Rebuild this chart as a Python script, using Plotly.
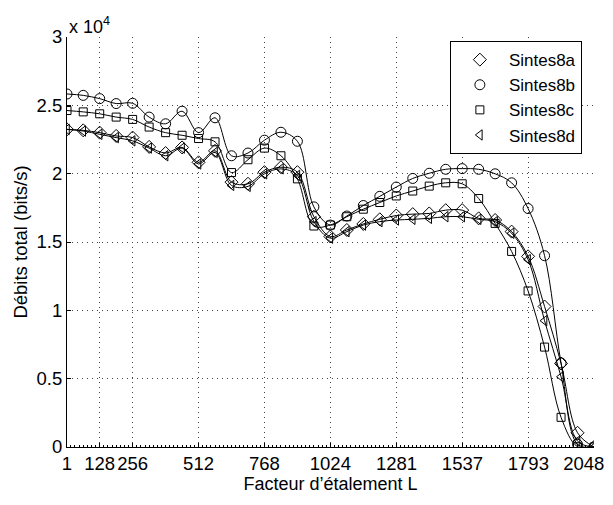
import plotly.graph_objects as go

# Spreading factor L at each marker (every 64)
L = [1, 64, 128, 192, 256, 320, 384, 448, 512, 576, 640, 704, 768, 832, 896, 960,
     1024, 1088, 1152, 1216, 1280, 1344, 1408, 1472, 1536, 1600, 1664, 1728, 1792,
     1856, 1920, 1984, 2048]

# Total throughput (bits/s)
sintes8a = [23240, 23170, 23000, 22760, 22640, 21960, 21510, 21920, 20830, 21670,
            19380, 19260, 20110, 20470, 20110, 16850, 15400, 15880, 16320, 16660,
            16940, 17040, 17090, 17330, 17330, 16730, 16610, 15760, 13950, 10280,
            6110, 1040, 0]
sintes8b = [25830, 25730, 25490, 25130, 25150, 24140, 23650, 24570, 23000, 24090,
            21310, 21510, 22450, 23030, 22370, 17570, 16240, 16900, 17670, 18340,
            19020, 19650, 20030, 20320, 20370, 20320, 19990, 19330, 17450, 14000,
            6150, 200, 0]
sintes8c = [24620, 24520, 24380, 24140, 23970, 23410, 23000, 22810, 22570, 22330,
            20080, 21020, 21870, 21310, 19620, 16170, 16240, 16850, 17400, 17890,
            18370, 18730, 19090, 19330, 19260, 18180, 16360, 14310, 11420, 7310,
            2170, 20, 0]
sintes8d = [23240, 23120, 22880, 22640, 22400, 21870, 21310, 21870, 20710, 21550,
            19140, 19070, 19990, 20350, 19870, 16490, 15280, 15760, 16240, 16490,
            16610, 16660, 16730, 16850, 16850, 16660, 16490, 15640, 13710, 9240,
            5140, 430, 0]

series = [("Sintes8a", sintes8a, "diamond-open", 10),
          ("Sintes8b", sintes8b, "circle-open", 10),
          ("Sintes8c", sintes8c, "square-open", 8),
          ("Sintes8d", sintes8d, "triangle-left-open", 9)]

x_ticks = [1, 128, 256, 512, 768, 1024, 1281, 1537, 1793, 2048]
# last label padded with no-break spaces so it is not clipped at the page edge
x_labels = ["1", "128", "256", "512", "768", "1024", "1281", "1537", "1793",
            "2048\u00a0\u00a0\u00a0\u00a0"]
y_ticks = [0, 5000, 10000, 15000, 20000, 25000, 30000]
y_labels = ["0", "0.5", "1", "1.5", "2", "2.5", "3"]

FONT = "Arial, Liberation Sans, sans-serif"
GRID = "#444444"

fig = go.Figure()
for name, ys, sym, sz in series:
    fig.add_trace(go.Scatter(
        x=L, y=ys, mode="lines", showlegend=False,
        line=dict(color="black", width=1, shape="spline", smoothing=1.0),
        hoverinfo="skip"))
for name, ys, sym, sz in series:
    fig.add_trace(go.Scatter(
        x=L, y=ys, mode="markers", name=name,
        marker=dict(symbol=sym, size=sz, color="black",
                    line=dict(color="black", width=1))))

# page body has an 8px default margin: figure is 605x497 so it fits a 613x505 window
fig.update_layout(
    width=605, height=497,
    margin=dict(l=59, r=19, t=29, b=58, autoexpand=False),
    paper_bgcolor="white", plot_bgcolor="white",
    font=dict(family=FONT, size=18.5, color="black"),
    showlegend=True,
    legend=dict(x=0.977, y=0.99, xanchor="right", yanchor="top",
                bgcolor="white", bordercolor="black", borderwidth=1,
                font=dict(size=17), itemwidth=48, tracegroupgap=0),
    xaxis=dict(range=[1, 2048], tickmode="array", tickvals=x_ticks,
               ticktext=x_labels, automargin=False,
               ticklabeloverflow="allow",
               showgrid=True, gridcolor=GRID, griddash="1px,4px", gridwidth=1,
               showline=True, linecolor="black", linewidth=1,
               ticks="inside", ticklen=4, tickcolor="black", zeroline=False,
               minor=dict(tickmode="linear", tick0=0, dtick=16, ticks="inside",
                          ticklen=2, tickcolor="black", showgrid=False),
               title=dict(text="Facteur d’étalement L", standoff=3,
                          font=dict(size=18))),
    yaxis=dict(range=[0, 30000], tickmode="array", tickvals=y_ticks,
               ticktext=y_labels, automargin=False,
               showgrid=True, gridcolor=GRID, griddash="1px,4px", gridwidth=1,
               showline=True, linecolor="black", linewidth=1,
               ticks="inside", ticklen=4, tickcolor="black", zeroline=False,
               title=dict(text="Débits total (bits/s)", standoff=4,
                          font=dict(size=18.5))),
    annotations=[dict(text="x 10<sup>4</sup>", xref="paper", yref="paper",
                      x=0, y=1, xanchor="left", yanchor="bottom",
                      showarrow=False, font=dict(size=18), yshift=-2)],
)

fig.write_html("out.html")
